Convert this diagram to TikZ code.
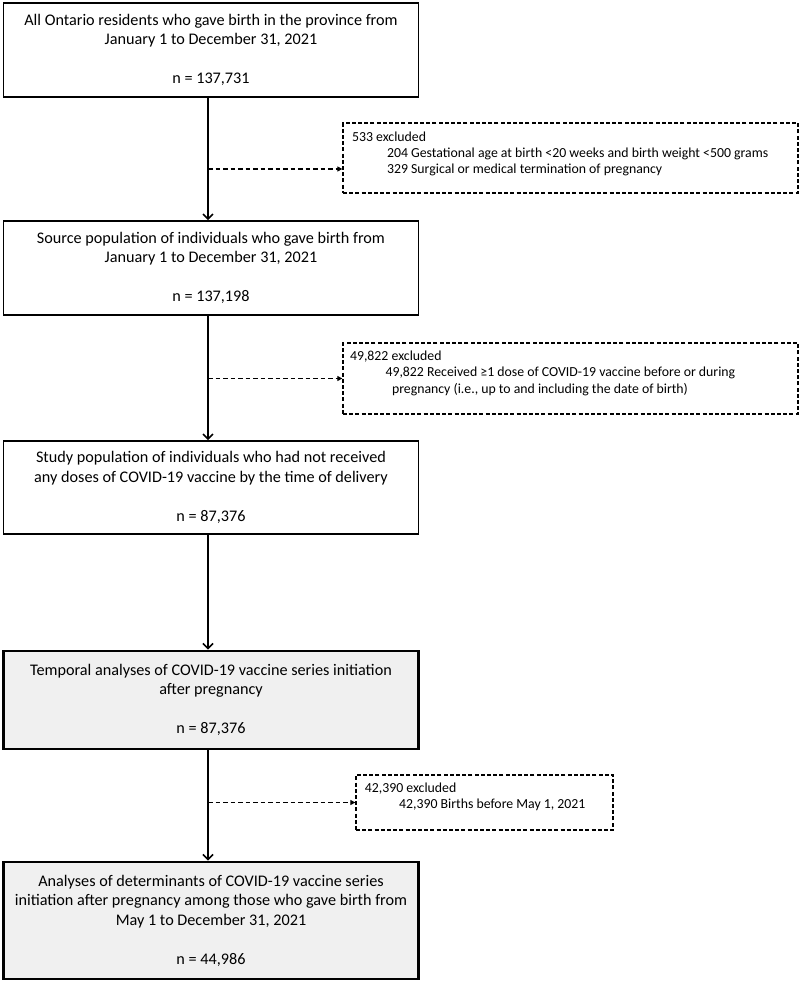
\documentclass[tikz,border=0pt]{standalone}
\usepackage{fontspec}
\setmainfont{Carlito}
\usetikzlibrary{arrows.meta}
\definecolor{boxgray}{RGB}{240,240,240}
\begin{document}
\begin{tikzpicture}[x=1pt,y=-1pt,
  mainbox/.style={draw=black, line width=1.7pt, minimum width=415pt, align=center,
    inner sep=0pt, font=\fontsize{16.2}{19.5}\selectfont},
  shadebox/.style={mainbox, fill=boxgray, line width=2.8pt},
  exbox/.style={draw=black, line width=1.3pt, dash pattern=on 4pt off 2.2pt, inner sep=0pt},
  extext/.style={align=left, inner sep=0pt, anchor=north west,
    font=\fontsize{13.8}{16.4}\selectfont},
  mainarrow/.style={draw=black, line width=1.6pt, -{Straight Barb[length=5pt,width=10pt]}},
  exarrow/.style={draw=black, line width=1.1pt, dash pattern=on 4.5pt off 3pt,
    -{Triangle[length=5pt,width=5pt]}}
]
\useasboundingbox (0,0) rectangle (800,983);

% main boxes
\node[mainbox, minimum height=94pt] (b1) at (211,50)
  {All Ontario residents who gave birth in the province from\\January 1 to December 31, 2021\\[19.5pt]n = 137,731};
\node[mainbox, minimum height=94pt] (b2) at (211,268)
  {Source population of individuals who gave birth from\\January 1 to December 31, 2021\\[19.5pt]n = 137,198};
\node[mainbox, minimum height=93pt] (b3) at (211,487.5)
  {Study population of individuals who had not received\\any doses of COVID-19 vaccine by the time of delivery\\[19.5pt]n = 87,376};
\node[shadebox, minimum height=98pt] (b4) at (211,700)
  {Temporal analyses of COVID-19 vaccine series initiation\\after pregnancy\\[19.5pt]n = 87,376};
\node[shadebox, minimum height=117pt] (b5) at (211,920.5)
  {Analyses of determinants of COVID-19 vaccine series\\initiation after pregnancy among those who gave birth from\\May 1 to December 31, 2021\\[19.5pt]n = 44,986};

% exclusion boxes
\node[exbox, minimum width=455pt, minimum height=70pt] (e1) at (570.5,158) {};
\node[extext] (t1) at ([xshift=9.5pt,yshift=-8.9pt]e1.north west)
  {533 excluded\\
   \hspace*{35pt}204 Gestational age at birth <20 weeks and birth weight <500 grams\\
   \hspace*{35pt}329 Surgical or medical termination of pregnancy};

\node[exbox, minimum width=455pt, minimum height=71pt] (e2) at (570.5,378.5) {};
\node[extext] (t2) at ([xshift=7.5pt,yshift=-8.4pt]e2.north west)
  {49,822 excluded\\
   \hspace*{35.5pt}49,822 Received ≥1 dose of COVID-19 vaccine before or during\\
   \hspace*{42pt}pregnancy (i.e., up to and including the date of birth)};

\node[exbox, minimum width=257pt, minimum height=55pt] (e3) at (484.5,802.5) {};
\node[extext] (t3) at ([xshift=9.3pt,yshift=-8.4pt]e3.north west)
  {42,390 excluded\\
   \hspace*{34.3pt}42,390 Births before May 1, 2021};

% connectors
\coordinate (spine) at (208,0);
\coordinate (e1in) at ([yshift=-11pt]e1.west);

\draw[mainarrow] ([xshift=-3pt]b1.south) -- ([xshift=-3pt]b2.north);
\draw[mainarrow] ([xshift=-3pt]b2.south) -- ([xshift=-3pt]b3.north);
\draw[mainarrow] ([xshift=-3pt]b3.south) -- ([xshift=-3pt]b4.north);
\draw[mainarrow] ([xshift=-3pt]b4.south) -- ([xshift=-3pt]b5.north);

\draw[exarrow] (spine |- e1in) -- (e1in);
\draw[exarrow] (spine |- e2.west) -- (e2.west);
\draw[exarrow] (spine |- e3.west) -- (e3.west);
\end{tikzpicture}
\end{document}
